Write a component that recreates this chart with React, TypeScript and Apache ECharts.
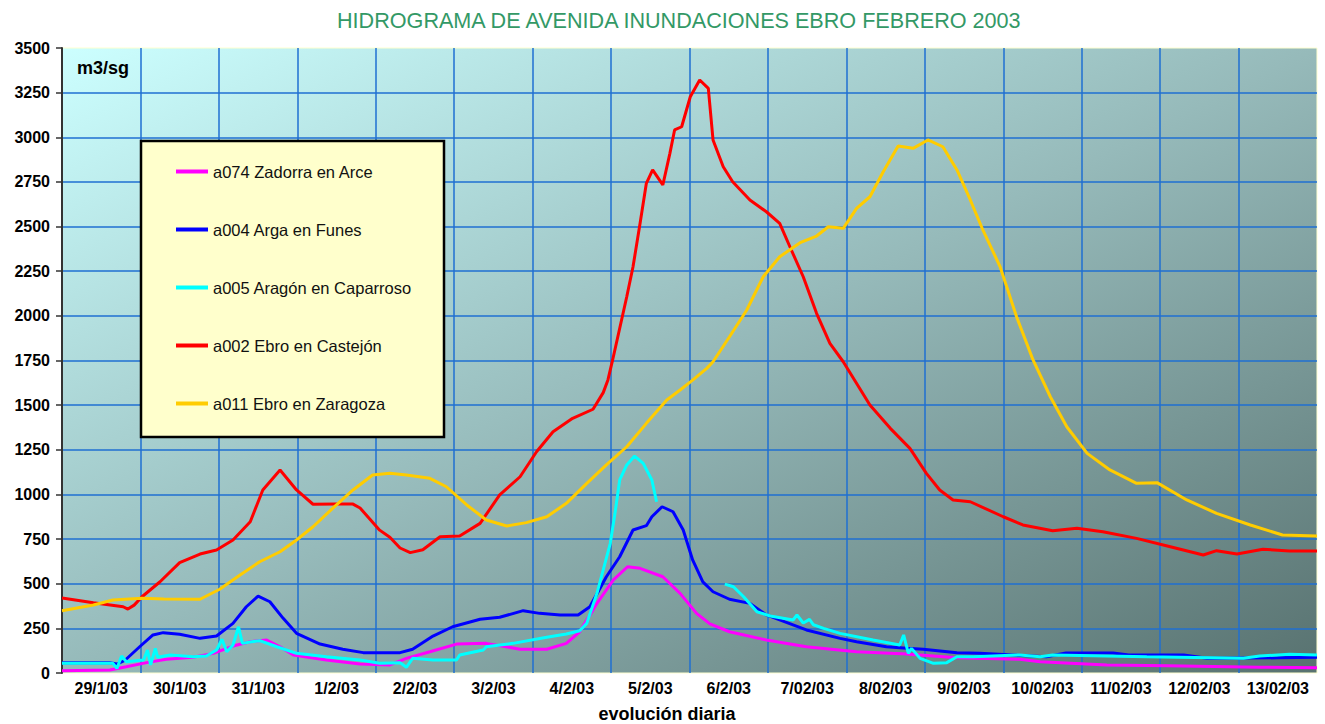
import React, { useEffect, useRef } from "react";
import * as echarts from "echarts";

const dayLabels = [
  "29/1/03", "30/1/03", "31/1/03", "1/2/03", "2/2/03", "3/2/03", "4/2/03", "5/2/03",
  "6/2/03", "7/02/03", "8/02/03", "9/02/03", "10/02/03", "11/02/03", "12/02/03", "13/02/03",
];

const seriesNames = [
  "a074 Zadorra en Arce",
  "a004 Arga en Funes",
  "a005 Aragón en Caparroso",
  "a002 Ebro en Castejón",
  "a011 Ebro en Zaragoza",
];

const seriesColors = ["#ff00ff", "#0000ff", "#00ffff", "#ff0000", "#ffcc00"];

// [day offset since 29/1/03 00h, m3/s]
const zadorraArce: [number, number | null][] = [
  [0, 13], [0.61, 17], [0.82, 35], [1.08, 58], [1.33, 77], [1.67, 88], [1.93, 110], [2.18, 151],
  [2.4, 175], [2.61, 185], [2.78, 147], [2.95, 101], [3.37, 73], [3.8, 50], [4.18, 45], [4.39, 82],
  [4.69, 119], [5.03, 162], [5.41, 166], [5.84, 133], [6.18, 133], [6.43, 166], [6.6, 231], [6.82, 390],
  [7.03, 521], [7.21, 595], [7.37, 586], [7.66, 539], [7.88, 446], [8.09, 334], [8.26, 275], [8.51, 231],
  [8.98, 185], [9.49, 147], [10.13, 119], [10.77, 106], [11.41, 86], [12.21, 77], [12.47, 63], [13.32, 45],
  [14.09, 41], [15.27, 32], [16, 30],
];

const argaFunes: [number, number | null][] = [
  [0, 58], [0.61, 58], [0.7, 50], [0.8, 70], [0.99, 147], [1.16, 213], [1.29, 226], [1.5, 217],
  [1.76, 194], [1.97, 207], [2.18, 278], [2.35, 371], [2.5, 431], [2.65, 399], [2.82, 306], [2.99, 222],
  [3.29, 162], [3.58, 133], [3.84, 114], [4.31, 114], [4.47, 133], [4.73, 207], [4.98, 259], [5.33, 301],
  [5.58, 312], [5.88, 349], [6.09, 334], [6.35, 325], [6.58, 325], [6.73, 371], [6.94, 539], [7.11, 651],
  [7.28, 801], [7.45, 825], [7.52, 875], [7.65, 931], [7.79, 903], [7.92, 801], [8.04, 633], [8.17, 510],
  [8.3, 455], [8.51, 413], [8.77, 390], [8.98, 325], [9.49, 241], [9.92, 194], [10.13, 175], [10.51, 147],
  [10.77, 138], [10.98, 133], [11.41, 114], [11.7, 110], [12.55, 91], [12.8, 112], [13.4, 112], [13.6, 101],
  [14.3, 101], [14.6, 82], [15.5, 85], [16, 88],
];

const aragonCaparroso: [number, number | null][] = [
  [0, 54], [0.65, 54], [0.7, 26], [0.76, 95], [0.82, 63], [1.04, 73], [1.09, 129], [1.13, 45],
  [1.19, 138], [1.22, 88], [1.38, 101], [1.67, 91], [1.84, 95], [1.97, 129], [2.04, 189], [2.1, 119],
  [2.18, 157], [2.25, 259], [2.3, 166], [2.42, 175], [2.52, 181], [2.74, 147], [2.99, 110], [3.37, 91],
  [3.8, 73], [4.05, 55], [4.31, 58], [4.39, 32], [4.47, 82], [4.73, 73], [5.03, 73], [5.07, 101],
  [5.37, 129], [5.41, 147], [5.75, 166], [6.18, 200], [6.43, 218], [6.6, 237], [6.69, 278], [6.82, 446],
  [6.9, 577], [6.99, 726], [7.05, 894], [7.11, 1081], [7.2, 1165], [7.3, 1215], [7.41, 1174], [7.52, 1081],
  [7.58, 959], [8.0, null], [8.45, 498], [8.56, 483], [8.69, 427], [8.86, 343], [9.03, 319], [9.32, 297],
  [9.37, 325], [9.45, 280], [9.53, 300], [9.58, 270], [9.71, 250], [9.92, 222], [10.34, 185], [10.68, 157],
  [10.73, 213], [10.79, 110], [10.83, 138], [10.94, 82], [11.11, 54], [11.28, 58], [11.41, 91], [11.62, 91],
  [12.21, 101], [12.47, 91], [12.63, 101], [13.83, 91], [15.06, 82], [15.27, 95], [15.65, 105], [16, 101],
];

const ebroCastejon: [number, number | null][] = [
  [0, 420], [0.4, 394], [0.78, 371], [0.84, 358], [0.92, 380], [1.02, 427], [1.25, 511], [1.5, 618],
  [1.76, 666], [1.97, 689], [2.18, 745], [2.4, 847], [2.56, 1025], [2.78, 1137], [2.99, 1025], [3.2, 945],
  [3.5, 946], [3.71, 946], [3.8, 924], [4.05, 800], [4.18, 760], [4.31, 700], [4.44, 674], [4.6, 690],
  [4.82, 763], [5.07, 767], [5.33, 838], [5.58, 997], [5.84, 1099], [6.05, 1239], [6.26, 1351], [6.51, 1426],
  [6.77, 1477], [6.9, 1570], [6.96, 1641], [7.02, 1753], [7.2, 2107], [7.28, 2275], [7.37, 2518], [7.45, 2742],
  [7.53, 2817], [7.66, 2733], [7.75, 2910], [7.81, 3041], [7.9, 3059], [8.01, 3227], [8.13, 3321], [8.24, 3274],
  [8.3, 2985], [8.43, 2835], [8.55, 2751], [8.77, 2649], [8.98, 2583], [9.15, 2518], [9.28, 2387], [9.45, 2219],
  [9.62, 2014], [9.79, 1846], [9.96, 1743], [10.3, 1501], [10.56, 1370], [10.81, 1258], [11.02, 1118], [11.19, 1025],
  [11.36, 969], [11.58, 959], [12.0, 875], [12.25, 829], [12.63, 797], [12.94, 810], [13.27, 791], [13.7, 754],
  [14.13, 707], [14.55, 661], [14.72, 685], [14.98, 666], [15.31, 693], [15.65, 683], [16, 683],
];

const ebroZaragoza: [number, number | null][] = [
  [0, 349], [0.4, 381], [0.65, 409], [1.02, 418], [1.3, 415], [1.76, 413], [2.01, 469], [2.27, 549],
  [2.52, 623], [2.78, 679], [2.99, 745], [3.2, 819], [3.45, 922], [3.71, 1025], [3.96, 1109], [4.18, 1118],
  [4.39, 1109], [4.69, 1090], [4.9, 1043], [5.16, 941], [5.41, 857], [5.67, 823], [5.92, 842], [6.18, 875],
  [6.43, 950], [6.69, 1062], [6.94, 1165], [7.2, 1267], [7.45, 1398], [7.71, 1529], [7.88, 1585], [8.04, 1640],
  [8.22, 1706], [8.3, 1743], [8.51, 1883], [8.73, 2033], [8.94, 2219], [9.15, 2331], [9.41, 2410], [9.62, 2447],
  [9.77, 2499], [9.96, 2490], [10.13, 2602], [10.3, 2667], [10.47, 2807], [10.66, 2951], [10.85, 2938], [11.04, 2985],
  [11.23, 2947], [11.41, 2817], [11.58, 2649], [11.74, 2481], [11.96, 2275], [12.17, 1995], [12.38, 1753], [12.6, 1547],
  [12.81, 1379], [13.07, 1230], [13.36, 1137], [13.7, 1062], [13.96, 1066], [14.34, 969], [14.72, 894], [15.15, 829],
  [15.56, 773], [16, 767],
];

const allSeriesData = [zadorraArce, argaFunes, aragonCaparroso, ebroCastejon, ebroZaragoza];

const FONT = "Arial, 'Liberation Sans', Helvetica, sans-serif";
const GRID_BLUE = "#1f6fd2";

export default function App() {
  const ref = useRef<HTMLDivElement>(null);

  useEffect(() => {
    document.body.style.margin = "0";
    if (!ref.current) return;
    const chart = echarts.init(ref.current, undefined, { renderer: "svg" });

    const option: any = {
      animation: false,
      backgroundColor: "#ffffff",
      textStyle: { fontFamily: FONT },
      title: {
        text: "HIDROGRAMA DE AVENIDA INUNDACIONES EBRO FEBRERO 2003",
        left: 337,
        top: 9,
        padding: 0,
        textStyle: { color: "#339966", fontSize: 21.6, fontWeight: "normal", fontFamily: FONT },
      },
      grid: {
        left: 62,
        right: 8,
        top: 48,
        bottom: 51,
        containLabel: false,
        show: true,
        borderColor: "#ffffd0",
        borderWidth: 1,
        backgroundColor: new echarts.graphic.LinearGradient(0, 0, 1, 1, [
          { offset: 0, color: "#ccffff" },
          { offset: 0.5, color: "#96baba" },
          { offset: 1, color: "#587270" },
        ]),
      },
      legend: {
        left: 141,
        top: 141,
        orient: "vertical",
        padding: [22, 0, 0, 35],
        icon: "rect",
        itemWidth: 32,
        itemHeight: 4,
        itemGap: 41,
        selectedMode: false,
        data: seriesNames,
        textStyle: { color: "#111", fontSize: 16.5, lineHeight: 16, fontFamily: FONT },
        z: 10,
      },
      graphic: [
        {
          type: "rect",
          z: 5,
          shape: { x: 141, y: 141, width: 303, height: 296 },
          style: { fill: "#ffffcc", stroke: "#000000", lineWidth: 2.5 },
          silent: true,
        },
        {
          type: "text",
          z: 5,
          x: 77,
          y: 68,
          style: {
            text: "m3/sg",
            fill: "#000",
            font: `bold 18px ${FONT}`,
            textAlign: "left",
            textVerticalAlign: "middle",
          },
          silent: true,
        },
        {
          type: "text",
          z: 5,
          x: 667,
          y: 714,
          style: {
            text: "evolución diaria",
            fill: "#000",
            font: `bold 18px ${FONT}`,
            textAlign: "center",
            textVerticalAlign: "middle",
          },
          silent: true,
        },
      ],
      xAxis: [
        {
          type: "value",
          min: 0,
          max: 16,
          interval: 1,
          position: "bottom",
          axisLine: { show: false },
          axisTick: { show: false },
          axisLabel: { show: false },
          splitLine: {
            show: true,
            showMinLine: false,
            showMaxLine: false,
            lineStyle: { color: GRID_BLUE, width: 1.5 },
          },
        },
        {
          type: "category",
          data: dayLabels,
          boundaryGap: true,
          position: "bottom",
          axisLine: { show: false },
          axisTick: { show: false },
          splitLine: { show: false },
          axisLabel: {
            interval: 0,
            margin: 7,
            color: "#000",
            fontSize: 16,
            fontWeight: "bold",
            fontFamily: FONT,
          },
        },
      ],
      yAxis: {
        type: "value",
        min: 0,
        max: 3500,
        interval: 250,
        axisLine: { show: true, lineStyle: { color: "#333", width: 2 } },
        axisTick: { show: true, length: 6, lineStyle: { color: "#333", width: 1.5 } },
        axisLabel: {
          margin: 12,
          color: "#000",
          fontSize: 16,
          fontWeight: "bold",
          fontFamily: FONT,
          formatter: (v: number) => String(v),
        },
        splitLine: {
          show: true,
          showMinLine: false,
          showMaxLine: false,
          lineStyle: { color: GRID_BLUE, width: 1.5 },
        },
      },
      series: seriesNames.map((name, i) => ({
        name,
        type: "line",
        xAxisIndex: 0,
        yAxisIndex: 0,
        data: allSeriesData[i],
        symbol: "none",
        showSymbol: false,
        connectNulls: false,
        silent: true,
        color: seriesColors[i],
        lineStyle: { color: seriesColors[i], width: 3 },
        z: 2,
      })),
    };

    chart.setOption(option);
    return () => chart.dispose();
  }, []);

  return <div ref={ref} style={{ width: 1325, height: 724 }} />;
}
